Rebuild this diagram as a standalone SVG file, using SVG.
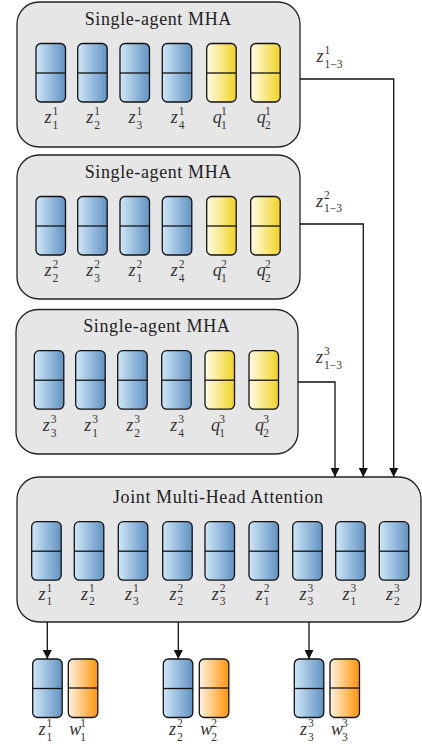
<svg xmlns="http://www.w3.org/2000/svg" width="422" height="751" viewBox="0 0 422 751">
<style>
.box{fill:#e6e6e6;stroke:#222;stroke-width:1.3}
.cell{stroke:#111;stroke-width:1.3}
.blue{fill:url(#gBlue)}
.yel{fill:url(#gYel)}
.org{fill:url(#gOrg)}
.div{stroke:#111;stroke-width:1.3}
.title{font-family:'Liberation Serif','Times New Roman',serif;font-size:18px;letter-spacing:0.6px;fill:#222;text-anchor:middle}
.v{font-family:'Liberation Serif','Times New Roman',serif;font-style:italic;font-size:18px;fill:#333}
.s{font-family:'Liberation Serif','Times New Roman',serif;font-size:11.5px;fill:#333}
.con{fill:none;stroke:#111;stroke-width:1.3}
</style>
<defs>
<linearGradient id="gBlue" x1="0" y1="0" x2="1" y2="0"><stop offset="0" stop-color="#cfe7f8"/><stop offset="1" stop-color="#6192c2"/></linearGradient>
<linearGradient id="gYel" x1="0" y1="0" x2="1" y2="0"><stop offset="0" stop-color="#fffce6"/><stop offset="1" stop-color="#f0d325"/></linearGradient>
<linearGradient id="gOrg" x1="0" y1="0" x2="1" y2="0"><stop offset="0" stop-color="#fff3e3"/><stop offset="1" stop-color="#ff9408"/></linearGradient>
<marker id="arr" viewBox="0 0 10 10" refX="10" refY="5" markerUnits="userSpaceOnUse" markerWidth="9" markerHeight="9" orient="auto"><path d="M0,0 L10,5 L0,10 z" fill="#111"/></marker>
<symbol id="cB" overflow="visible"><rect class="cell blue" x="0" y="0" width="29.5" height="58.5" rx="5"/><line class="div" x1="0" y1="29.5" x2="29.5" y2="29.5"/></symbol>
<symbol id="cY" overflow="visible"><rect class="cell yel" x="0" y="0" width="29.5" height="58.5" rx="5"/><line class="div" x1="0" y1="29.5" x2="29.5" y2="29.5"/></symbol>
<symbol id="cO" overflow="visible"><rect class="cell org" x="0" y="0" width="29.5" height="58.5" rx="5"/><line class="div" x1="0" y1="29" x2="29.5" y2="29"/></symbol>
</defs>

<g id="mha1">
<rect class="box" x="17" y="2" width="283" height="145" rx="22"/>
<text class="title" x="158.3" y="25">Single-agent MHA</text>
<use href="#cB" x="36" y="43.5"/><use href="#cB" x="77.7" y="43.5"/><use href="#cB" x="120" y="43.5"/><use href="#cB" x="162.3" y="43.5"/><use href="#cY" x="206.7" y="43.5"/><use href="#cY" x="250.7" y="43.5"/>
<text class="v" x="44.5" y="123">z</text><text class="s" x="52.5" y="115">1</text><text class="s" x="52.5" y="128.5">1</text>
<text class="v" x="86.2" y="123">z</text><text class="s" x="94.2" y="115">1</text><text class="s" x="94.2" y="128.5">2</text>
<text class="v" x="128.5" y="123">z</text><text class="s" x="136.5" y="115">1</text><text class="s" x="136.5" y="128.5">3</text>
<text class="v" x="170.8" y="123">z</text><text class="s" x="178.8" y="115">1</text><text class="s" x="178.8" y="128.5">4</text>
<text class="v" x="212.7" y="123">q</text><text class="s" x="221" y="115">1</text><text class="s" x="221" y="128.5">1</text>
<text class="v" x="256.7" y="123">q</text><text class="s" x="265" y="115">1</text><text class="s" x="265" y="128.5">2</text>
</g>

<g id="mha2">
<rect class="box" x="17" y="155" width="283" height="144" rx="22"/>
<text class="title" x="158.3" y="178">Single-agent MHA</text>
<use href="#cB" x="36" y="196.5"/><use href="#cB" x="77.7" y="196.5"/><use href="#cB" x="120" y="196.5"/><use href="#cB" x="162.3" y="196.5"/><use href="#cY" x="206.7" y="196.5"/><use href="#cY" x="250.7" y="196.5"/>
<text class="v" x="44.5" y="276">z</text><text class="s" x="52.5" y="268">2</text><text class="s" x="52.5" y="281.5">2</text>
<text class="v" x="86.2" y="276">z</text><text class="s" x="94.2" y="268">2</text><text class="s" x="94.2" y="281.5">3</text>
<text class="v" x="128.5" y="276">z</text><text class="s" x="136.5" y="268">2</text><text class="s" x="136.5" y="281.5">1</text>
<text class="v" x="170.8" y="276">z</text><text class="s" x="178.8" y="268">2</text><text class="s" x="178.8" y="281.5">4</text>
<text class="v" x="212.7" y="276">q</text><text class="s" x="221" y="268">2</text><text class="s" x="221" y="281.5">1</text>
<text class="v" x="256.7" y="276">q</text><text class="s" x="265" y="268">2</text><text class="s" x="265" y="281.5">2</text>
</g>

<g id="mha3">
<rect class="box" x="16" y="309.5" width="282" height="144.5" rx="22"/>
<text class="title" x="156.8" y="332">Single-agent MHA</text>
<use href="#cB" x="34.3" y="350.7"/><use href="#cB" x="75.7" y="350.7"/><use href="#cB" x="117.7" y="350.7"/><use href="#cB" x="161.7" y="350.7"/><use href="#cY" x="205" y="350.7"/><use href="#cY" x="249" y="350.7"/>
<text class="v" x="42.8" y="431">z</text><text class="s" x="50.8" y="423">3</text><text class="s" x="50.8" y="436.5">3</text>
<text class="v" x="84.2" y="431">z</text><text class="s" x="92.2" y="423">3</text><text class="s" x="92.2" y="436.5">1</text>
<text class="v" x="126.2" y="431">z</text><text class="s" x="134.2" y="423">3</text><text class="s" x="134.2" y="436.5">2</text>
<text class="v" x="170.2" y="431">z</text><text class="s" x="178.2" y="423">3</text><text class="s" x="178.2" y="436.5">4</text>
<text class="v" x="211" y="431">q</text><text class="s" x="219.3" y="423">3</text><text class="s" x="219.3" y="436.5">1</text>
<text class="v" x="255" y="431">q</text><text class="s" x="263.3" y="423">3</text><text class="s" x="263.3" y="436.5">2</text>
</g>

<g id="joint">
<rect class="box" x="17" y="477" width="404" height="145" rx="22"/>
<text class="title" x="218.3" y="503">Joint Multi-Head Attention</text>
<use href="#cB" x="31.7" y="521.7"/><use href="#cB" x="74.3" y="521.7"/><use href="#cB" x="118.3" y="521.7"/><use href="#cB" x="162.7" y="521.7"/><use href="#cB" x="205" y="521.7"/><use href="#cB" x="249" y="521.7"/><use href="#cB" x="292.7" y="521.7"/><use href="#cB" x="335.7" y="521.7"/><use href="#cB" x="379.3" y="521.7"/>
<text class="v" x="38.5" y="599.5">z</text><text class="s" x="46.5" y="591.5">1</text><text class="s" x="46.5" y="605">1</text>
<text class="v" x="81.1" y="599.5">z</text><text class="s" x="89.1" y="591.5">1</text><text class="s" x="89.1" y="605">2</text>
<text class="v" x="125.1" y="599.5">z</text><text class="s" x="133.1" y="591.5">1</text><text class="s" x="133.1" y="605">3</text>
<text class="v" x="169.5" y="599.5">z</text><text class="s" x="177.5" y="591.5">2</text><text class="s" x="177.5" y="605">2</text>
<text class="v" x="211.8" y="599.5">z</text><text class="s" x="219.8" y="591.5">2</text><text class="s" x="219.8" y="605">3</text>
<text class="v" x="255.8" y="599.5">z</text><text class="s" x="263.8" y="591.5">2</text><text class="s" x="263.8" y="605">1</text>
<text class="v" x="299.5" y="599.5">z</text><text class="s" x="307.5" y="591.5">3</text><text class="s" x="307.5" y="605">3</text>
<text class="v" x="342.5" y="599.5">z</text><text class="s" x="350.5" y="591.5">3</text><text class="s" x="350.5" y="605">1</text>
<text class="v" x="386.1" y="599.5">z</text><text class="s" x="394.1" y="591.5">3</text><text class="s" x="394.1" y="605">2</text>
</g>

<g id="out1">
<use href="#cB" x="32.7" y="659"/><use href="#cO" x="68.3" y="659"/>
<text class="v" x="38.5" y="735">z</text><text class="s" x="46.5" y="727">1</text><text class="s" x="46.5" y="740.5">1</text>
<text class="v" x="69.3" y="735">w</text><text class="s" x="80.3" y="727">1</text><text class="s" x="80.3" y="740.5">1</text>
</g>
<g id="out2">
<use href="#cB" x="163.3" y="659"/><use href="#cO" x="199.3" y="659"/>
<text class="v" x="169.1" y="735">z</text><text class="s" x="177.1" y="727">2</text><text class="s" x="177.1" y="740.5">2</text>
<text class="v" x="200.3" y="735">w</text><text class="s" x="211.3" y="727">2</text><text class="s" x="211.3" y="740.5">2</text>
</g>
<g id="out3">
<use href="#cB" x="294.3" y="659"/><use href="#cO" x="330" y="659"/>
<text class="v" x="300.1" y="735">z</text><text class="s" x="308.1" y="727">3</text><text class="s" x="308.1" y="740.5">3</text>
<text class="v" x="331" y="735">w</text><text class="s" x="342" y="727">3</text><text class="s" x="342" y="740.5">3</text>
</g>

<g id="connectors">
<path class="con" d="M300,79 H393.7 V477" marker-end="url(#arr)"/>
<path class="con" d="M300,224 H363.3 V477" marker-end="url(#arr)"/>
<path class="con" d="M298,382 H335 V477" marker-end="url(#arr)"/>
<path class="con" d="M47.3,622 V659" marker-end="url(#arr)"/>
<path class="con" d="M178.3,622 V659" marker-end="url(#arr)"/>
<path class="con" d="M309,622 V659" marker-end="url(#arr)"/>
<text class="v" x="316.5" y="62">z</text><text class="s" x="324.5" y="54">1</text><text class="s" x="324.5" y="67.5">1−3</text>
<text class="v" x="316" y="206.5">z</text><text class="s" x="324" y="198.5">2</text><text class="s" x="324" y="212">1−3</text>
<text class="v" x="316" y="363">z</text><text class="s" x="324" y="355">3</text><text class="s" x="324" y="368.5">1−3</text>
</g>
</svg>
